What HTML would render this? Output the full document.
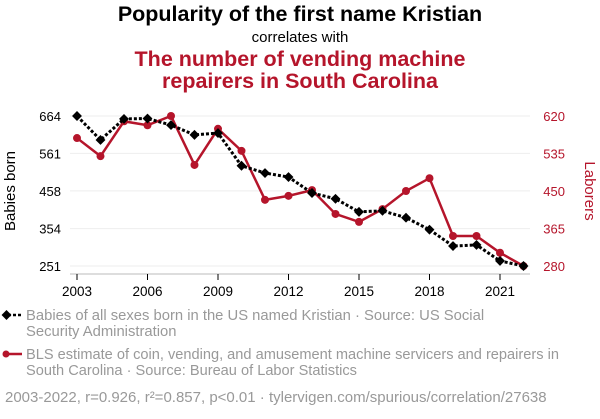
<!DOCTYPE html>
<html><head><meta charset="utf-8"><style>
body{margin:0;background:#fff;width:600px;height:414px;overflow:hidden;font-family:"Liberation Sans",sans-serif}
svg text{font-family:"Liberation Sans",sans-serif}
</style></head><body>
<svg id="chart" width="600" height="414">
<text x="300" y="21" text-anchor="middle" font-size="21.5" font-weight="bold" fill="#000">Popularity of the first name Kristian</text>
<text x="300" y="42" text-anchor="middle" font-size="15" fill="#000">correlates with</text>
<text x="300" y="66" text-anchor="middle" font-size="21.5" font-weight="bold" fill="#b5152b">The number of vending machine</text>
<text x="300" y="88" text-anchor="middle" font-size="21.5" font-weight="bold" fill="#b5152b">repairers in South Carolina</text>
<g id="grid"></g><g id="axes"></g><g id="series"></g>
<text transform="translate(15,191) rotate(-90)" text-anchor="middle" font-size="15" fill="#000">Babies born</text>
<text transform="translate(585,191) rotate(90)" text-anchor="middle" font-size="15" fill="#b5152b">Laborers</text>
<g>
<line x1="3" y1="315" x2="22" y2="315" stroke="#000" stroke-width="2.5" stroke-dasharray="3,2"/>
<rect x="3" y="311.5" width="7" height="7" transform="rotate(45 6.5 315)" fill="#000"/>
<text x="26" y="320" font-size="14.8" fill="#999">Babies of all sexes born in the US named Kristian · Source: US Social</text>
<text x="26" y="336" font-size="14.8" fill="#999">Security Administration</text>
</g>
<g>
<line x1="3" y1="354" x2="22" y2="354" stroke="#b5152b" stroke-width="2.5"/>
<circle cx="6" cy="354" r="3.5" fill="#b5152b"/>
<text x="26" y="359" font-size="14.6" fill="#999">BLS estimate of coin, vending, and amusement machine servicers and repairers in</text>
<text x="26" y="375" font-size="14.6" fill="#999">South Carolina · Source: Bureau of Labor Statistics</text>
</g>
<text x="5" y="402" font-size="15" fill="#999">2003-2022, r=0.926, r²=0.857, p&lt;0.01 · tylervigen.com/spurious/correlation/27638</text>
</svg>
<script>
const years=[2003,2004,2005,2006,2007,2008,2009,2010,2011,2012,2013,2014,2015,2016,2017,2018,2019,2020,2021,2022];
const babies=[664,598,656,657,639,612,617,527,507,496,452,436,400,403,384,351,306,309,265,251];
const laborers=[570,529,608,599,620,509,591,541,430,439,452,398,380,409,450,479,348,348,310,280];
const leftTicks=[251,354,458,561,664];
const rightTicks=[280,365,450,535,620];
const xTicks=[2003,2006,2009,2012,2015,2018,2021];
const NS="http://www.w3.org/2000/svg";
const x=v=>77+(v-2003)*23.5;
const yL=v=>266-(v-251)/(664-251)*150;
const yR=v=>266-(v-280)/(620-280)*150;
function el(t,a,p){const e=document.createElementNS(NS,t);for(const k in a)e.setAttribute(k,a[k]);p.appendChild(e);return e;}
const grid=document.getElementById('grid'),axes=document.getElementById('axes'),ser=document.getElementById('series');
leftTicks.forEach((t,i)=>{
 const g=el('line',{x1:70,x2:530,y1:yL(t),y2:yL(t),stroke:'#eee','stroke-width':1},grid);
 
 
 const tx=el('text',{x:61,y:yL(t)+5,'text-anchor':'end','font-size':13,fill:'#000'},axes);tx.textContent=t;
 
 
});
rightTicks.forEach(t=>{
 const tx=el('text',{x:565,y:yR(t)+5,'text-anchor':'end','font-size':13,fill:'#b5152b'},axes);tx.textContent=t;
 
 
});
el('line',{x1:70,x2:530,y1:274,y2:274,stroke:'#bbb'},axes);
xTicks.forEach(t=>{
 el('line',{x1:x(t),x2:x(t),y1:274,y2:280,stroke:'#000'},axes);
 const tx=el('text',{x:x(t),y:296,'text-anchor':'middle','font-size':13.5,fill:'#000'},axes);tx.textContent=t;
 
 
});
const rl=el('polyline',{points:years.map((y,i)=>x(y)+','+yR(laborers[i])).join(' '),fill:'none',stroke:'#b5152b','stroke-width':2.5},ser);


years.forEach((y,i)=>{
 const c=el('circle',{cx:x(y),cy:yR(laborers[i]),r:4,fill:'#b5152b'},ser);
 
 
});
const bl=el('polyline',{points:years.map((y,i)=>x(y)+','+yL(babies[i])).join(' '),fill:'none',stroke:'#000','stroke-width':3,'stroke-dasharray':'3,2'},ser);


years.forEach((y,i)=>{
 const cx=x(y),cy=yL(babies[i]);
 const r=el('rect',{x:cx-3.5,y:cy-3.5,width:7,height:7,fill:'#000',transform:`rotate(45 ${cx} ${cy})`},ser);
 
 
});
</script>
</body></html>
